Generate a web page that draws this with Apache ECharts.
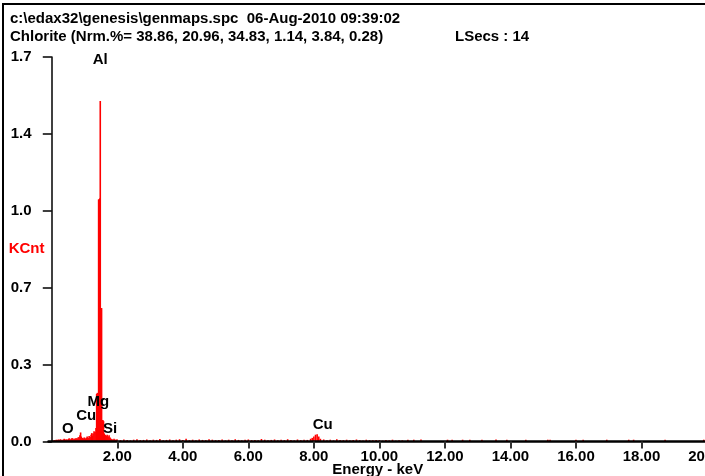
<!DOCTYPE html>
<html>
<head>
<meta charset="utf-8">
<script src="https://cdn.jsdelivr.net/npm/echarts@6/dist/echarts.min.js"></script>
<style>
  html, body { margin: 0; padding: 0; background: #fff; }
  #chart { width: 705px; height: 476px; }
</style>
</head>
<body>
<div id="chart"></div>
<script>
// EDS spectrum of chlorite: counts (KCnt) per energy channel (keV)
const headerLine1 = 'c:\\edax32\\genesis\\genmaps.spc  06-Aug-2010 09:39:02';
const headerLine2 = 'Chlorite (Nrm.%= 38.86, 20.96, 34.83, 1.14, 3.84, 0.28)';
const liveTime = 'LSecs : 14';

// Low-energy part of the spectrum, including the O / Cu-L / Mg / Al / Si region
const lowEnergySpectrum = [
  [0.05, 0.004], [0.08, 0.006], [0.11, 0.005], [0.14, 0.008], [0.17, 0.006],
  [0.20, 0.009], [0.23, 0.007], [0.26, 0.010], [0.29, 0.008], [0.32, 0.006],
  [0.35, 0.009], [0.38, 0.012], [0.41, 0.008], [0.44, 0.010], [0.47, 0.007],
  [0.50, 0.011], [0.53, 0.014], [0.56, 0.009], [0.59, 0.012], [0.62, 0.016],
  [0.65, 0.010], [0.68, 0.013], [0.71, 0.011], [0.74, 0.015], [0.77, 0.012],
  [0.80, 0.018], [0.83, 0.020], [0.86, 0.028], [0.88, 0.040], [0.90, 0.022],
  [0.93, 0.016], [0.96, 0.014], [0.99, 0.018], [1.02, 0.013], [1.05, 0.017],
  [1.08, 0.022], [1.11, 0.016], [1.14, 0.024], [1.17, 0.020], [1.20, 0.030],
  [1.22, 0.037], [1.24, 0.025], [1.26, 0.035], [1.29, 0.045], [1.32, 0.042],
  [1.35, 0.060], [1.37, 0.210], [1.39, 0.215], [1.41, 0.205], [1.43, 1.070],
  [1.45, 1.072], [1.47, 1.075], [1.48, 1.505], [1.50, 0.590], [1.52, 0.590],
  [1.54, 0.095], [1.56, 0.095], [1.58, 0.090], [1.60, 0.035], [1.63, 0.030],
  [1.66, 0.025], [1.69, 0.030], [1.72, 0.022], [1.75, 0.028], [1.78, 0.018],
  [1.81, 0.012], [1.84, 0.010], [1.87, 0.008], [1.90, 0.012], [1.93, 0.009],
  [1.96, 0.007], [1.99, 0.010]
];

// Continuum from 2 keV upward, with the Cu-K line near 8 keV
const highEnergySpectrum = [
  [2.1, 0.006], [2.2, 0.009], [2.3, 0.007], [2.4, 0.005], [2.5, 0.008],
  [2.6, 0.010], [2.7, 0.006], [2.8, 0.007], [2.9, 0.009], [3.0, 0.006],
  [3.1, 0.008], [3.2, 0.007], [3.3, 0.011], [3.4, 0.005], [3.5, 0.007],
  [3.6, 0.009], [3.7, 0.006], [3.8, 0.008], [3.9, 0.010], [4.0, 0.007],
  [4.1, 0.012], [4.2, 0.006], [4.3, 0.008], [4.4, 0.005], [4.5, 0.009],
  [4.6, 0.007], [4.7, 0.006], [4.8, 0.010], [4.9, 0.008], [5.0, 0.006],
  [5.1, 0.007], [5.2, 0.009], [5.3, 0.005], [5.4, 0.008], [5.5, 0.006],
  [5.6, 0.010], [5.7, 0.007], [5.8, 0.005], [5.9, 0.008], [6.0, 0.009],
  [6.1, 0.006], [6.2, 0.007], [6.3, 0.005], [6.4, 0.011], [6.5, 0.008],
  [6.6, 0.006], [6.7, 0.007], [6.8, 0.009], [6.9, 0.005], [7.0, 0.008],
  [7.1, 0.006], [7.2, 0.010], [7.3, 0.007], [7.4, 0.005], [7.5, 0.009],
  [7.6, 0.006], [7.7, 0.008], [7.8, 0.007], [7.9, 0.012], [7.95, 0.016],
  [8.00, 0.022], [8.05, 0.030], [8.10, 0.032], [8.15, 0.022], [8.20, 0.012],
  [8.3, 0.009], [8.4, 0.006], [8.5, 0.008], [8.6, 0.005], [8.7, 0.010],
  [8.8, 0.007], [8.9, 0.006], [9.0, 0.008], [9.1, 0.005], [9.2, 0.007],
  [9.3, 0.009], [9.4, 0.006], [9.5, 0.004], [9.6, 0.008], [9.7, 0.006],
  [9.8, 0.005], [9.9, 0.007], [10.0, 0.006], [10.1, 0.004], [10.2, 0.007],
  [10.3, 0.005], [10.4, 0.008], [10.5, 0.004], [10.6, 0.006], [10.7, 0.005],
  [10.87, 0.008], [11.05, 0.008], [11.27, 0.009], [12.08, 0.008], [12.22, 0.008],
  [12.54, 0.008], [12.76, 0.008], [13.13, 0.008], [13.56, 0.009], [13.89, 0.008],
  [14.47, 0.008], [15.14, 0.008], [15.21, 0.008], [16.00, 0.008], [16.22, 0.008],
  [16.94, 0.008], [17.61, 0.008], [17.76, 0.008], [18.72, 0.008], [19.90, 0.008]
];

// Element line identifiers: [energy keV, label height KCnt, symbol]
const peakLabels = [
  [1.48, 1.689, 'Al'],
  [1.42, 0.176, 'Mg'],
  [1.05, 0.113, 'Cu'],
  [0.49, 0.055, 'O'],
  [1.78, 0.055, 'Si'],
  [8.27, 0.073, 'Cu']
];

const xTicks = [2, 4, 6, 8, 10, 12, 14, 16, 18, 20];
const yTicks = [0, 0.34, 0.68, 1.02, 1.36, 1.7];

const FONT = '"Liberation Sans", Arial, sans-serif';
const FS = 15;
const chart = echarts.init(document.getElementById('chart'), null, { renderer: 'canvas' });

chart.setOption({
  backgroundColor: '#fff',
  animation: false,
  title: [
    {
      text: headerLine1 + '\n' + headerLine2,
      left: 10, top: 9.5, padding: 0,
      textStyle: { fontFamily: FONT, fontSize: FS, fontWeight: 'bold', color: '#000', lineHeight: 18.5 }
    },
    {
      text: liveTime,
      left: 455, top: 28, padding: 0,
      textStyle: { fontFamily: FONT, fontSize: FS, fontWeight: 'bold', color: '#000', lineHeight: 18.5 }
    }
  ],
  graphic: [
    {
      type: 'polyline',
      shape: { points: [[3, 476], [3, 4], [705, 4]] },
      style: { stroke: '#000', lineWidth: 2, fill: null },
      silent: true
    }
  ],
  grid: { left: 48.5, right: -2, top: 57, bottom: 34.5, containLabel: false, outerBoundsMode: 'none' },
  xAxis: {
    type: 'value',
    min: -0.1,
    max: 20,
    z: 5,
    name: 'Energy - keV',
    nameLocation: 'middle',
    nameGap: 21,
    nameMoveOverlap: false,
    nameTextStyle: { fontFamily: FONT, fontSize: FS, fontWeight: 'bold', color: '#000', verticalAlign: 'top' },
    axisLine: { show: true, lineStyle: { color: '#000', width: 2.5 } },
    axisTick: { show: true, customValues: xTicks, length: 7, lineStyle: { color: '#333', width: 2 } },
    axisLabel: {
      customValues: xTicks,
      margin: 8,
      hideOverlap: false,
      formatter: v => v.toFixed(2),
      fontFamily: FONT, fontSize: FS, fontWeight: 'bold', color: '#000'
    },
    splitLine: { show: false }
  },
  yAxis: {
    type: 'value',
    min: 0,
    max: 1.7,
    z: 5,
    name: 'KCnt',
    nameLocation: 'middle',
    nameRotate: 0,
    nameGap: 4,
    nameMoveOverlap: false,
    nameTextStyle: { fontFamily: FONT, fontSize: FS, fontWeight: 'bold', color: '#ff0000', padding: [0, 0, 8, 0] },
    axisLine: { show: true, lineStyle: { color: '#000', width: 1.5 } },
    axisTick: { show: true, customValues: yTicks, length: 9, lineStyle: { color: '#000', width: 1.5 } },
    axisLabel: {
      customValues: yTicks,
      margin: 17,
      formatter: v => v.toFixed(1),
      fontFamily: FONT, fontSize: FS, fontWeight: 'bold', color: '#000'
    },
    splitLine: { show: false }
  },
  series: [
    {
      name: 'spectrum',
      type: 'bar',
      data: lowEnergySpectrum.concat(highEnergySpectrum),
      barWidth: 1.6,
      itemStyle: { color: '#ff0000' },
      silent: true
    },
    {
      name: 'lines',
      type: 'scatter',
      data: peakLabels.map(p => ({ value: [p[0], p[1]], name: p[2] })),
      symbolSize: 0,
      itemStyle: { opacity: 1 },
      label: {
        show: true,
        position: 'inside',
        opacity: 1,
        formatter: p => p.name,
        fontFamily: FONT, fontSize: FS, fontWeight: 'bold', color: '#000'
      },
      silent: true,
      z: 6
    }
  ]
});
</script>
</body>
</html>
